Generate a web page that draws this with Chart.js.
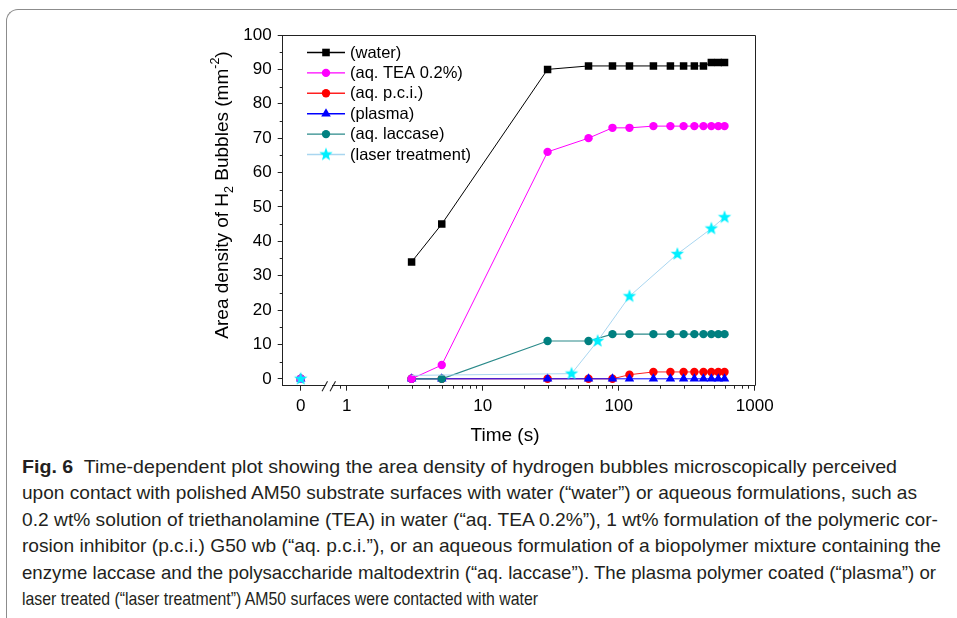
<!DOCTYPE html>
<html>
<head>
<meta charset="utf-8">
<script src="https://cdn.jsdelivr.net/npm/chart.js@4.4.1/dist/chart.umd.min.js"></script>
<style>
  html, body { margin: 0; padding: 0; background: #fff; }
  body { width: 957px; height: 618px; position: relative; overflow: hidden; }
  #frame { position: absolute; left: 6px; top: 9px; width: 990px; height: 650px;
           border-top: 1.5px solid #8c8c8c; border-left: 1.5px solid #8c8c8c; border-top-left-radius: 12px; }
  #plot { position: absolute; left: 0; top: 0; }
  #caption { position: absolute; left: 22px; top: 454px; color: #231f20;
             font-family: "Liberation Sans", Arial, sans-serif; font-size: 18.5px; }
  #caption .ln { height: 26.4px; line-height: 26.4px; white-space: nowrap; }
  #caption .ln span { display: inline-block; transform-origin: 0 50%; }
</style>
</head>
<body>
<div id="frame"></div>
<canvas id="plot" width="957" height="450"></canvas>
<div id="caption">
  <div class="ln"><span><b>Fig. 6</b>&nbsp; Time-dependent plot showing the area density of hydrogen bubbles microscopically perceived</span></div>
  <div class="ln"><span>upon contact with polished AM50 substrate surfaces with water (“water”) or aqueous formulations, such as</span></div>
  <div class="ln"><span>0.2 wt% solution of triethanolamine (TEA) in water (“aq. TEA 0.2%”), 1 wt% formulation of the polymeric cor-</span></div>
  <div class="ln"><span>rosion inhibitor (p.c.i.) G50 wb (“aq. p.c.i.”), or an aqueous formulation of a biopolymer mixture containing the</span></div>
  <div class="ln"><span>enzyme laccase and the polysaccharide maltodextrin (“aq. laccase”). The plasma polymer coated (“plasma”) or</span></div>
  <div class="ln"><span>laser treated (“laser treatment”) AM50 surfaces were contacted with water</span></div>
</div>
<script>
// time in seconds (0 is drawn left of the axis break)
const times   = [0, 3, 5, 30, 60, 90, 120, 180, 240, 300, 360, 420, 480, 540, 600];
const water   = [null, 34, 45, 90, 91, 91, 91, 91, 91, 91, 91, 91, 92, 92, 92];
const tea     = [0, 0, 4, 66, 70, 73, 73, 73.5, 73.5, 73.5, 73.5, 73.5, 73.5, 73.5, 73.5];
const pci     = [0, 0, 0, 0, 0, 0, 1.2, 2, 2, 2, 2, 2, 2, 2, 2];
const plasma  = [0, 0, 0, 0, 0, 0, 0, 0, 0, 0, 0, 0, 0, 0, 0];
const laccase = [0, 0, 0, 11, 11, 13, 13, 13, 13, 13, 13, 13, 13, 13, 13];
const laserTimes = [0, 3, 45, 70, 120, 270, 480, 600];
const laser      = [0, 1, 1.5, 11, 24, 36.3, 43.7, 47];

const xTickLabels = ['0', '1', '10', '100', '1000'];
const xMinorTicks = [0.9, 2, 3, 4, 5, 6, 7, 8, 9, 20, 30, 40, 50, 60, 70, 80, 90, 200, 300, 400, 500, 600, 700, 800, 900];
const yTicks      = [0, 10, 20, 30, 40, 50, 60, 70, 80, 90, 100];
const yMinorTicks = [5, 15, 25, 35, 45, 55, 65, 75, 85, 95];

// x axis is log10(time); t = 0 sits left of the break
const ZERO_POS = -0.338;
const BREAK_POS = -0.13;
const X_MIN = -0.4706, X_MAX = 3;

function toPoints(ts, vs) {
  const pts = [];
  ts.forEach((t, i) => {
    if (vs[i] === null) return;
    pts.push({ x: t === 0 ? ZERO_POS : Math.log10(t), y: vs[i], t: t });
    if (t === 0) pts.push({ x: BREAK_POS, y: null });
  });
  return pts;
}

function makeStar(color) {
  const c = document.createElement('canvas');
  c.width = 16; c.height = 16;
  const g = c.getContext('2d');
  g.beginPath();
  for (let i = 0; i < 10; i++) {
    const r = i % 2 ? 2.9 : 7;
    const a = -Math.PI / 2 + i * Math.PI / 5;
    g.lineTo(8 + r * Math.cos(a), 8 + r * Math.sin(a));
  }
  g.closePath();
  g.fillStyle = color;
  g.fill();
  return c;
}
const star = makeStar('#00f0ff');

const FONT = '"Liberation Sans", Arial, sans-serif';

function drawMarker(ctx, style, color, x, y) {
  ctx.fillStyle = color;
  ctx.beginPath();
  if (style === 'rect') {
    ctx.rect(x - 3.8, y - 3.8, 7.6, 7.6);
  } else if (style === 'circle') {
    ctx.arc(x, y, 4.2, 0, Math.PI * 2);
  } else if (style === 'triangle') {
    ctx.moveTo(x, y - 5.5); ctx.lineTo(x + 4.8, y + 2.75); ctx.lineTo(x - 4.8, y + 2.75); ctx.closePath();
  } else {
    ctx.drawImage(style, x - 8, y - 8);
    return;
  }
  ctx.fill();
}

const series = [
  { label: '(water)',           data: toPoints(times, water),   line: '#000000', marker: '#000000', style: 'rect',     r: 5.3, lw: 1,   order: 6 },
  { label: '(aq. TEA 0.2%)',    data: toPoints(times, tea),     line: '#ff00ff', marker: '#ff00ff', style: 'circle',   r: 4.2, lw: 1,   order: 2 },
  { label: '(aq. p.c.i.)',      data: toPoints(times, pci),     line: '#ff2020', marker: '#ff0000', style: 'circle',   r: 4.2, lw: 1,   order: 5 },
  { label: '(plasma)',          data: toPoints(times, plasma),  line: '#0000ff', marker: '#0000ff', style: 'triangle', r: 5.5, lw: 1,   order: 4 },
  { label: '(aq. laccase)',     data: toPoints(times, laccase), line: '#2a8a8a', marker: '#008080', style: 'circle',   r: 4.2, lw: 1.2, order: 3 },
  { label: '(laser treatment)', data: toPoints(laserTimes, laser), line: '#a9d6f0', marker: '#00f0ff', style: star,   r: 6,   lw: 1,   order: 1 }
];

const decor = {
  id: 'decor',
  beforeDatasetsDraw(chart) {
    const { ctx, chartArea: a, scales: { x, y } } = chart;
    ctx.save();
    ctx.strokeStyle = '#222';
    ctx.lineWidth = 1;
    ctx.beginPath();
    ctx.moveTo(a.left, Math.round(a.top) + 0.5);
    ctx.lineTo(Math.round(a.right) + 0.5, Math.round(a.top) + 0.5);
    ctx.lineTo(Math.round(a.right) + 0.5, a.bottom);
    ctx.stroke();
    ctx.beginPath();
    xMinorTicks.forEach(v => {
      const px = Math.round(x.getPixelForValue(Math.log10(v))) + 0.5;
      ctx.moveTo(px, x.top); ctx.lineTo(px, x.top + 3);
    });
    yMinorTicks.forEach(v => {
      const py = Math.round(y.getPixelForValue(v)) + 0.5;
      ctx.moveTo(y.right, py); ctx.lineTo(y.right - 3, py);
    });
    ctx.stroke();
    ctx.restore();
  },
  afterDraw(chart) {
    const { ctx, scales: { x } } = chart;
    ctx.save();
    // axis break
    const bx = x.getPixelForValue(BREAK_POS);
    const by = x.top;
    ctx.fillStyle = '#fff';
    ctx.fillRect(bx - 3, by - 2, 6, 4);
    ctx.strokeStyle = '#222';
    ctx.lineWidth = 1.1;
    ctx.beginPath();
    ctx.moveTo(bx - 7, by + 5.5); ctx.lineTo(bx - 1.5, by - 4.5);
    ctx.moveTo(bx + 1, by + 5.5); ctx.lineTo(bx + 6.5, by - 4.5);
    ctx.stroke();

    // legend
    ctx.font = '16.5px ' + FONT;
    ctx.textBaseline = 'middle';
    ctx.textAlign = 'left';
    series.forEach((s, i) => {
      const ly = 52.5 + i * 20.4;
      ctx.strokeStyle = s.line;
      ctx.lineWidth = 1.4;
      ctx.beginPath();
      ctx.moveTo(307, ly); ctx.lineTo(345, ly);
      ctx.stroke();
      drawMarker(ctx, s.style, s.marker, 326, ly);
      ctx.fillStyle = '#000';
      ctx.fillText(s.label, 350, ly + 0.5);
    });

    // x title
    ctx.font = '19px ' + FONT;
    ctx.textAlign = 'center';
    ctx.textBaseline = 'alphabetic';
    ctx.fillStyle = '#000';
    ctx.fillText('Time (s)', 505, 441);

    // y title with sub- and superscript
    const parts = [
      ['Area density of H', 19, 0], ['2', 12.5, 5], [' Bubbles (mm', 19, 0], ['-2', 12.5, -9], [')', 19, 0]
    ];
    let total = 0;
    parts.forEach(p => { ctx.font = p[1] + 'px ' + FONT; total += ctx.measureText(p[0]).width; });
    ctx.translate(228, 195);
    ctx.rotate(-Math.PI / 2);
    ctx.textAlign = 'left';
    let cx = -total / 2;
    parts.forEach(p => {
      ctx.font = p[1] + 'px ' + FONT;
      ctx.fillText(p[0], cx, p[2]);
      cx += ctx.measureText(p[0]).width;
    });
    ctx.restore();
  }
};

new Chart(document.getElementById('plot'), {
  type: 'line',
  data: {
    datasets: series.map(s => ({
      label: s.label,
      data: s.data,
      borderColor: s.line,
      borderWidth: s.lw,
      backgroundColor: s.marker,
      pointBackgroundColor: s.marker,
      pointBorderWidth: 0,
      pointStyle: s.style,
      pointRadius: ctx => (s.style === star && ctx.raw && ctx.raw.t === 3) ? 0 : s.r,
      tension: 0,
      spanGaps: false,
      order: s.order
    }))
  },
  options: {
    responsive: false,
    animation: false,
    events: [],
    layout: { padding: { left: 0, right: 202.3, top: 35, bottom: 0 } },
    plugins: { legend: { display: false }, tooltip: { enabled: false } },
    scales: {
      x: {
        type: 'linear',
        min: X_MIN, max: X_MAX,
        afterFit: s => { s.height = 64.3; },
        afterBuildTicks: s => { s.ticks = [ZERO_POS, 0, 1, 2, 3].map(v => ({ value: v })); },
        ticks: {
          autoSkip: false, maxRotation: 0, padding: 5,
          color: '#000', font: { family: FONT, size: 17 },
          callback: (v, i) => xTickLabels[i]
        },
        grid: { drawOnChartArea: false, drawTicks: true, tickLength: 5, tickColor: '#222', tickWidth: 1 },
        border: { display: true, color: '#222', width: 1 }
      },
      y: {
        type: 'linear',
        min: -2, max: 100,
        afterFit: s => { s.width = 282.7; },
        afterBuildTicks: s => { s.ticks = yTicks.map(v => ({ value: v })); },
        ticks: {
          autoSkip: false, padding: 6,
          color: '#000', font: { family: FONT, size: 17 },
          callback: v => String(v)
        },
        grid: { drawOnChartArea: false, drawTicks: true, tickLength: 5, tickColor: '#222', tickWidth: 1 },
        border: { display: true, color: '#222', width: 1 }
      }
    }
  },
  plugins: [decor]
});

// fit caption lines to the widths of the printed figure
const lineWidths = [875, 895, 916, 919, 914, 516];
function fitCaption() {
  document.querySelectorAll('#caption .ln span').forEach((el, i) => {
    el.style.transform = 'none';
    const w = el.getBoundingClientRect().width;
    el.style.transform = 'scaleX(' + (lineWidths[i] / w) + ')';
  });
}
fitCaption();
if (document.fonts && document.fonts.ready) document.fonts.ready.then(fitCaption);
</script>
</body>
</html>
